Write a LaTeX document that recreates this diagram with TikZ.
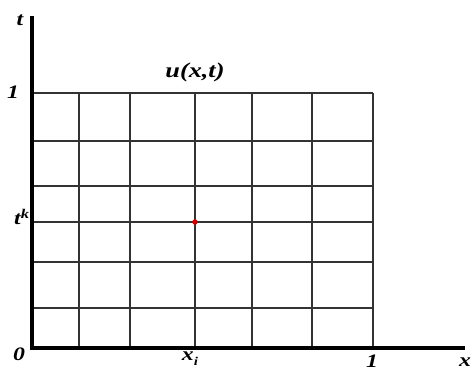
\documentclass[tikz,border=0pt]{standalone}
\usepackage{fontspec}
\setmainfont{Liberation Serif}
\newcommand{\wlbl}[1]{\scalebox{1.25}[1]{#1}}
\begin{document}
\begin{tikzpicture}[x=1pt, y=-1pt,
    axis/.style={line width=4pt, black},
    gridln/.style={line width=1.2pt, black!80},
    lbl/.style={font=\fontsize{19}{19}\selectfont\bfseries\itshape, inner sep=0pt},
    pt/.style={circle, fill=red!80!black, inner sep=0pt, minimum size=5.5pt}
]
    \useasboundingbox (0,0) rectangle (474,371);

    % grid
    \foreach \y in {93,141,186,222,262,308}
        \draw[gridln] (32,\y) -- (373,\y);
    \foreach \x in {79,130,195,252,312,373}
        \draw[gridln] (\x,348) -- (\x,93);

    % axes
    \coordinate (o) at (32,348);
    \coordinate (tend) at (32,16);
    \coordinate (xend) at (465,348);
    \draw[axis] (32,350) -- (tend);
    \draw[axis] (30,348) -- (xend);

    % labels
    \node[lbl] (tlab) at (20,20) {\wlbl{t}};
    \node[lbl] (one t) at (13,92) {\wlbl{1}};
    \node[lbl] (tk) at (22,217) {\wlbl{t\textsuperscript{k}}};
    \node[lbl] (zero) at (19,354) {\wlbl{0}};
    \node[lbl] (xi) at (190,359) {\wlbl{x\raisebox{-5pt}{\fontsize{12}{12}\selectfont i}}};
    \node[lbl] (one x) at (372,361) {\wlbl{1}};
    \node[lbl] (xlab) at (465,362) {\wlbl{x}};
    \node[lbl, font=\fontsize{21}{21}\selectfont\bfseries\itshape] (u) at (195,72) {\wlbl{u(x,t)}};

    \node[pt] (uik) at (195,222) {};
\end{tikzpicture}
\end{document}
